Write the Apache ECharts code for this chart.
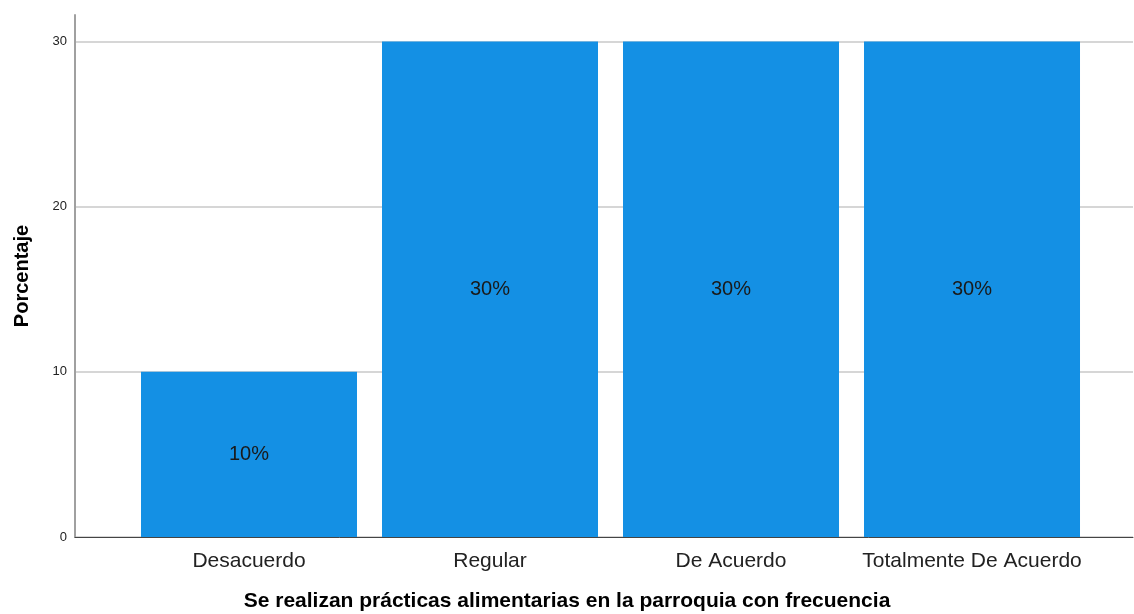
<!DOCTYPE html>
<html>
<head>
<meta charset="utf-8">
<script src="https://cdn.jsdelivr.net/npm/echarts@6/dist/echarts.min.js"></script>
<style>
  html, body { margin: 0; padding: 0; background: #fff; }
  #chart { width: 1134px; height: 614px; }
</style>
</head>
<body>
<div id="chart"></div>
<script>
// Response categories and their percentages
const categories = ['Desacuerdo', 'Regular', 'De Acuerdo', 'Totalmente De Acuerdo'];
const percentages = [10, 30, 30, 30];
const yTicks = [0, 10, 20, 30];

const FONT = '"Liberation Sans", Arial, sans-serif';

// bars sit at positions 1..4 on a numeric x axis
const barData = categories.map((c, i) => [i + 1, percentages[i]]);

const chart = echarts.init(document.getElementById('chart'));
chart.setOption({
  animation: false,
  backgroundColor: '#ffffff',
  title: {
    text: 'Se realizan prácticas alimentarias en la parroquia con frecuencia',
    left: 'center',
    top: 586,
    textStyle: { fontFamily: FONT, fontSize: 21, fontWeight: 'bold', color: '#000' }
  },
  grid: { left: 75, right: 1, top: 15, bottom: 77 },
  xAxis: {
    type: 'value',
    min: 0.278,
    max: 4.668,
    axisLine: { show: true, lineStyle: { color: '#444', width: 1 } },
    axisTick: { show: false },
    splitLine: { show: false },
    axisLabel: {
      customValues: categories.map((c, i) => i + 1),
      formatter: v => categories[Math.round(v) - 1] || '',
      margin: 14,
      fontFamily: FONT,
      fontSize: 21,
      color: '#222'
    }
  },
  yAxis: {
    type: 'value',
    min: 0,
    max: 31.6,
    interval: 10,
    name: 'Porcentaje',
    nameLocation: 'middle',
    nameGap: 43,
    nameTextStyle: { fontFamily: FONT, fontSize: 20, fontWeight: 'bold', color: '#000' },
    axisLine: { show: true, lineStyle: { color: '#a0a0a0', width: 2 } },
    axisTick: { show: false },
    splitLine: { show: true, showMaxLine: false, lineStyle: { color: '#d6d6d6', width: 2 } },
    axisLabel: {
      customValues: yTicks,
      margin: 8,
      fontFamily: FONT,
      fontSize: 13,
      color: '#222'
    }
  },
  series: [{
    type: 'bar',
    data: barData,
    barWidth: 216,
    itemStyle: { color: '#1490e4' },
    label: {
      show: true,
      position: 'inside',
      formatter: p => p.value[1] + '%',
      fontFamily: FONT,
      fontSize: 20,
      color: '#1a1a1a'
    }
  }]
});
</script>
</body>
</html>
